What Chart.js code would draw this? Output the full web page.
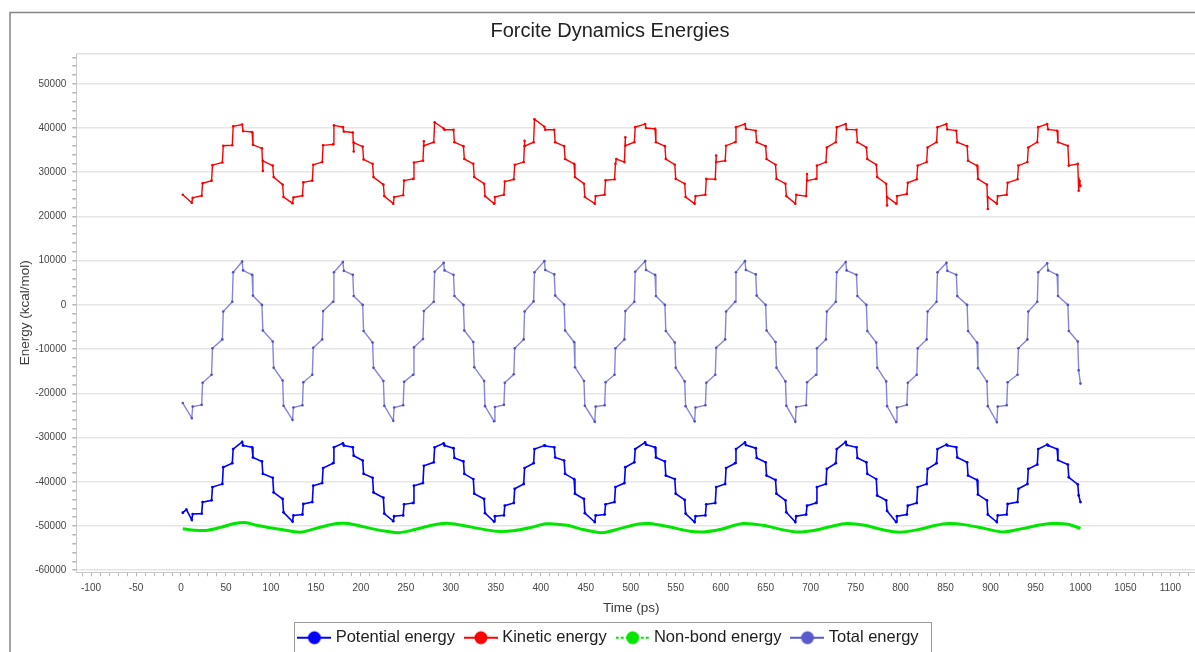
<!DOCTYPE html>
<html>
<head>
<meta charset="utf-8">
<title>Forcite Dynamics Energies</title>
<script src="https://cdn.jsdelivr.net/npm/chart.js@4.4.1/dist/chart.umd.min.js"></script>
<style>
  html, body { margin: 0; padding: 0; background: #fff; overflow: hidden; }
  #wrap { position: relative; width: 1220px; height: 680px; }
  canvas { display: block; }
</style>
</head>
<body>
<div id="wrap"><canvas id="energyChart" width="1220" height="680"></canvas></div>
<script>
// ---- Trajectory data (time in ps, energy in kcal/mol) ----
// Thermostat steps: each entry is the frame where a new plateau begins.
const stepTimes = [2,
  13, 24, 35, 47, 58, 69, 80, 91, 103, 114,
  125, 136, 147, 158, 170, 181, 192, 203, 214, 226,
  237, 248, 259, 270, 282, 293, 304, 315, 326, 338,
  349, 360, 371, 382, 393, 405, 416, 427, 438, 449,
  461, 472, 483, 494, 505, 517, 528, 539, 550, 561,
  572, 584, 595, 606, 617, 628, 640, 651, 662, 673,
  684, 696, 707, 718, 729, 740, 752, 763, 774, 785,
  796, 808, 819, 830, 841, 852, 863, 875, 886, 897,
  908, 919, 931, 942, 953, 964, 975, 987, 998];
const endTime = 1000;

// Total energy: value at the start and at the end of each plateau
const totalOpen = [-22200,
  -23000, -17600, -9800, -1500, 7400, 7800, 2100, -5800, -14200, -22800,
  -23200, -17500, -9700, -1400, 7400, 7700, 2000, -5900, -14200, -22800,
  -23200, -17400, -9600, -1400, 7500, 7800, 2000, -5800, -14100, -22900,
  -23100, -17600, -9800, -1500, 7400, 7900, 2100, -5800, -14100, -22800,
  -23000, -17500, -9800, -1400, 7500, 7900, 2000, -5900, -14200, -22900,
  -23200, -17600, -9700, -1500, 7400, 7900, 2100, -5800, -14200, -22800,
  -23100, -17500, -9800, -1500, 7400, 7800, 2000, -5900, -14200, -22900,
  -23200, -17600, -9800, -1500, 7400, 7700, 2000, -5900, -14300, -22900,
  -23000, -17500, -9800, -1500, 7400, 7800, 2000, -5900, -14800];
const totalClose = [-25600,
  -22600, -15800, -7800, 700, 9800, 6800, 0, -8300, -17100, -26000,
  -22700, -15800, -7800, 700, 9700, 6800, 0, -8500, -17200, -26200,
  -22700, -15800, -7700, 700, 9500, 6800, 0, -8400, -17200, -26300,
  -22600, -15700, -7800, 800, 9900, 6900, 100, -8400, -17200, -26400,
  -22700, -15800, -7800, 700, 9900, 6800, 0, -8500, -17300, -26300,
  -22700, -15800, -7800, 700, 9900, 6900, 0, -8400, -17300, -26400,
  -22700, -15800, -7800, 700, 9700, 6800, 0, -8500, -17300, -26500,
  -22600, -15800, -7800, 700, 9500, 6800, 0, -8500, -17300, -26500,
  -22700, -15800, -7800, 700, 9400, 6800, 0, -8300, -17800];

// Kinetic energy
const kineticOpen = [24900,
  24200, 27500, 31600, 36000, 40400, 39300, 36200, 32600, 28900, 24400,
  24300, 27700, 31700, 36100, 40600, 39200, 36700, 32900, 28900, 24600,
  24400, 28100, 32200, 36000, 41300, 39600, 36800, 33000, 28900, 24600,
  24400, 27900, 31700, 35900, 42000, 39600, 36800, 33000, 28900, 24400,
  24600, 28200, 31900, 36000, 40200, 40000, 36800, 33000, 28500, 24400,
  24600, 28500, 32300, 36000, 40200, 39800, 36800, 33000, 28500, 24600,
  24900, 28100, 31500, 35600, 40200, 39700, 36800, 33000, 28900, 24400,
  24600, 27600, 31500, 35600, 40200, 39700, 36800, 32600, 28500, 24400,
  24600, 27600, 31500, 35600, 40200, 39700, 36800, 31500, 25800];
const kineticClose = [23100,
  24700, 28100, 32200, 36100, 40800, 39100, 35400, 31500, 27200, 23000,
  24700, 28100, 32300, 36300, 40200, 39000, 35800, 31900, 27200, 22900,
  24800, 28500, 32600, 36800, 39900, 39600, 35900, 31900, 27400, 22900,
  24900, 28400, 32300, 36800, 40300, 39600, 35900, 31900, 27400, 22900,
  24900, 28400, 32300, 36800, 40900, 39800, 35900, 31700, 27400, 22900,
  24900, 28400, 32600, 36800, 40900, 39400, 35900, 31700, 27400, 22900,
  24600, 28500, 32300, 36800, 40900, 39600, 35600, 31700, 27400, 22900,
  25100, 28400, 32300, 36800, 40900, 39400, 35900, 31500, 27200, 22900,
  24900, 28400, 32300, 36800, 40900, 39400, 36000, 31900, 26900];
// Isolated kinetic-energy spikes [time, energy]
const kineticSpikes = [[91, 30300], [192, 34700], [270, 37000], [382, 37100],
  [484, 33000], [494, 37900], [595, 33800], [696, 29600], [785, 22500],
  [897, 21700], [999, 28000]];

// Potential energy
const potentialOpen = [-47000,
  -47300, -44600, -41200, -36700, -32600, -31800, -34500, -38200, -42400, -46900,
  -47600, -45000, -40900, -36900, -32200, -31800, -34100, -38200, -42400, -47200,
  -47800, -45100, -40900, -36400, -32200, -31800, -34600, -38200, -42700, -47100,
  -47800, -45400, -41600, -36900, -32600, -31900, -34500, -38200, -42700, -47100,
  -47600, -45100, -41200, -36700, -32600, -31600, -34500, -38600, -42700, -47200,
  -47800, -45100, -41200, -36900, -32600, -31700, -34600, -38600, -42700, -46900,
  -47800, -45400, -41200, -37100, -32600, -31700, -34600, -38200, -43100, -46600,
  -47800, -45400, -41200, -37100, -32600, -31800, -34500, -38600, -42900, -47400,
  -47600, -45000, -41600, -37100, -32600, -31800, -35100, -39000, -43100];
const potentialClose = [-48600,
  -47200, -44200, -40500, -35800, -31000, -32200, -35400, -39100, -43900, -49000,
  -47400, -44600, -40300, -35800, -31300, -32200, -35200, -39100, -43600, -48900,
  -47600, -44800, -40300, -35600, -31300, -32400, -35400, -39400, -43900, -49000,
  -47600, -44800, -40500, -35800, -31800, -32200, -35200, -39400, -43900, -49100,
  -47400, -44600, -40300, -35600, -31100, -32200, -35400, -39400, -44100, -49100,
  -47600, -44800, -40500, -35800, -31100, -32400, -35600, -39600, -44200, -49100,
  -47400, -44800, -40500, -35800, -31000, -32200, -35600, -39400, -44200, -49100,
  -47400, -44800, -40500, -35800, -31600, -32200, -35600, -39600, -44200, -49100,
  -47400, -44600, -40500, -36100, -31600, -32600, -36100, -40600, -44600];
const potentialSpikes = [[6, -46300]];

// Non-bond energy (smooth, sampled along the run)
const nonBondTime = [2, 16, 30, 45, 58, 71, 84, 97, 112, 132, 149, 167, 180, 193,
  212, 230, 243, 260, 279, 295, 312, 332, 351, 369, 388, 406, 429, 447, 468, 488,
  507, 521, 544, 566, 581, 599, 625, 647, 670, 686, 705, 723, 740, 760, 779, 799,
  820, 838, 853, 872, 894, 914, 935, 953, 968, 986, 1000];
const nonBondEnergy = [-50600, -50950, -50950, -50250, -49500, -49200, -49850,
  -50350, -50800, -51400, -50600, -49650, -49400, -49700, -50600, -51250, -51500,
  -50800, -49850, -49400, -49850, -50600, -51200, -51100, -50400, -49500, -49850,
  -50800, -51500, -50600, -49600, -49450, -50250, -51200, -51350, -50800, -49450,
  -49850, -50900, -51350, -50950, -50100, -49450, -49850, -50800, -51400, -50800,
  -49900, -49450, -49750, -50600, -51350, -50600, -49850, -49450, -49600, -50550];

const seriesNames = ['Potential energy', 'Kinetic energy', 'Non-bond energy', 'Total energy'];

// Axis ranges and tick spacing
const timeRange = [-116.4, 1144];
const timeMinorStep = 10, timeLabelStep = 50;
const energyRange = [-60450, 56900];
const energyMinorStep = 2000, energyLabelStep = 10000;

// ---- Build point lists for the library ----
function plateauPoints(open, close, spikes) {
  const pts = [];
  for (let k = 0; k < stepTimes.length; k++) {
    const t0 = stepTimes[k];
    const t1 = k + 1 < stepTimes.length ? stepTimes[k + 1] - 1 : endTime;
    pts.push({ x: t0, y: open[k], o: 1 });
    pts.push({ x: t1, y: close[k], o: 2 });
  }
  (spikes || []).forEach(([t, e]) => pts.push({ x: t, y: e, o: 0 }));
  pts.sort((a, b) => (a.x - b.x) || (a.o - b.o));
  return pts.map(p => ({ x: p.x, y: p.y }));
}

const potentialPts = plateauPoints(potentialOpen, potentialClose, potentialSpikes);
const kineticPts = plateauPoints(kineticOpen, kineticClose, kineticSpikes);
const totalPts = plateauPoints(totalOpen, totalClose, []);
const nonBondPts = nonBondTime.map((t, i) => ({ x: t, y: nonBondEnergy[i] }));

function tickList(range, step) {
  const out = [];
  for (let v = Math.ceil(range[0] / step) * step; v <= range[1]; v += step) out.push({ value: v });
  return out;
}

// Legend glyphs: a short line with a round marker
function legendGlyph(color, dashed) {
  const c = document.createElement('canvas');
  c.width = 34; c.height = 16;
  const g = c.getContext('2d');
  g.strokeStyle = color; g.lineWidth = 2;
  if (dashed) g.setLineDash([3, 2]);
  g.beginPath(); g.moveTo(0, 8); g.lineTo(34, 8); g.stroke();
  g.setLineDash([]);
  g.fillStyle = color;
  g.beginPath(); g.arc(17, 8, 6.5, 0, Math.PI * 2); g.fill();
  return c;
}
const glyphs = [
  legendGlyph('#0000ff', false),
  legendGlyph('#ff0000', false),
  legendGlyph('#00e600', true),
  legendGlyph('#5a5ad0', false)
];

const FONT = "'Liberation Sans', Arial, sans-serif";
Chart.defaults.font.family = FONT;

// Frame, legend border and time-axis caption
const decorations = {
  id: 'decorations',
  beforeDraw(chart) {
    const ctx = chart.ctx;
    ctx.save();
    ctx.fillStyle = '#ffffff';
    ctx.fillRect(0, 0, chart.width, chart.height);
    ctx.restore();
  },
  afterDraw(chart) {
    const ctx = chart.ctx;
    const area = chart.chartArea;
    ctx.save();
    // outer frame
    ctx.strokeStyle = '#858585';
    ctx.lineWidth = 1.5;
    ctx.strokeRect(10, 12.5, 1400, 900);
    // plot top border
    ctx.strokeStyle = '#e2e2e2';
    ctx.lineWidth = 1.5;
    ctx.beginPath();
    ctx.moveTo(area.left, area.top + 0.5);
    ctx.lineTo(area.right, area.top + 0.5);
    ctx.stroke();
    // legend border
    const hb = chart.legend.legendHitBoxes;
    if (hb && hb.length) {
      const last = hb[hb.length - 1];
      const l = hb[0].left - 7;
      const r = last.left + last.width + 13;
      const t = hb[0].top - 7;
      ctx.strokeStyle = '#9a9a9a';
      ctx.lineWidth = 1;
      ctx.strokeRect(Math.round(l) + 0.5, Math.round(t) + 0.5, Math.round(r - l), 34);
    }
    // x-axis caption
    ctx.fillStyle = '#3c3c3c';
    ctx.font = '13.5px ' + FONT;
    ctx.textAlign = 'center';
    ctx.textBaseline = 'middle';
    ctx.fillText('Time (ps)', area.left + 555, 608);
    ctx.restore();
  }
};

new Chart(document.getElementById('energyChart'), {
  type: 'line',
  data: {
    datasets: [
      { label: seriesNames[0], data: potentialPts, borderColor: '#0000ff', backgroundColor: '#0000ff',
        borderWidth: 1.6, pointRadius: 1.4, pointBorderWidth: 0, tension: 0 },
      { label: seriesNames[1], data: kineticPts, borderColor: '#ff0000', backgroundColor: '#ff0000',
        borderWidth: 1.4, pointRadius: 1.3, pointBorderWidth: 0, tension: 0 },
      { label: seriesNames[2], data: nonBondPts, borderColor: '#00e600', backgroundColor: '#00e600',
        borderWidth: 3, pointRadius: 0, tension: 0.3 },
      { label: seriesNames[3], data: totalPts, borderColor: 'rgba(92,92,212,0.75)', backgroundColor: '#5050c8',
        borderWidth: 1.4, pointRadius: 1.3, pointBorderWidth: 0, tension: 0 }
    ]
  },
  options: {
    responsive: false,
    animation: false,
    devicePixelRatio: 1,
    parsing: false,
    layout: { autoPadding: false, padding: { left: 10, right: 10, top: 0, bottom: 24 } },
    plugins: {
      title: {
        display: true,
        text: 'Forcite Dynamics Energies',
        color: '#222222',
        font: { size: 20, weight: 'normal', family: FONT },
        padding: { top: 19.5, bottom: 9.8 }
      },
      legend: {
        display: true,
        position: 'bottom',
        labels: {
          color: '#1e1e1e',
          font: { size: 16.5, family: FONT },
          padding: 13,
          usePointStyle: true,
          pointStyleWidth: 26,
          generateLabels(chart) {
            const items = Chart.defaults.plugins.legend.labels.generateLabels(chart);
            items.forEach((it, i) => { it.pointStyle = glyphs[i]; });
            return items;
          }
        }
      },
      tooltip: { enabled: false }
    },
    scales: {
      x: {
        type: 'linear',
        min: timeRange[0],
        max: timeRange[1],
        afterFit(scale) { scale.height = 44.3; },
        afterBuildTicks(scale) { scale.ticks = tickList(timeRange, timeMinorStep); },
        border: { color: '#c9c9c9', width: 1 },
        grid: { drawOnChartArea: false, drawTicks: true, tickLength: 4, tickColor: '#b5b5b5' },
        ticks: {
          autoSkip: false,
          maxRotation: 0,
          padding: 6,
          color: '#454545',
          font: { size: 10, family: FONT },
          callback: v => (Math.round(v) % timeLabelStep === 0 ? String(Math.round(v)) : '')
        },
        title: { display: false }
      },
      y: {
        type: 'linear',
        min: energyRange[0],
        max: energyRange[1],
        afterFit(scale) { scale.width = 66.3; },
        afterBuildTicks(scale) { scale.ticks = tickList(energyRange, energyMinorStep); },
        border: { color: '#c9c9c9', width: 1 },
        grid: {
          drawTicks: true,
          tickLength: 4,
          tickColor: '#b5b5b5',
          color: ctx => (ctx.tick && Math.round(ctx.tick.value) % energyLabelStep === 0 ? '#e6e6e6' : 'rgba(0,0,0,0)'),
          lineWidth: 1.5
        },
        ticks: {
          autoSkip: false,
          padding: 6,
          color: '#454545',
          font: { size: 10, family: FONT },
          callback: v => (Math.round(v) % energyLabelStep === 0 ? String(Math.round(v)) : '')
        },
        title: {
          display: true,
          text: 'Energy (kcal/mol)',
          color: '#3c3c3c',
          font: { size: 13.5, family: FONT },
          padding: { top: 7, bottom: 0 }
        }
      }
    }
  },
  plugins: [decorations]
});
</script>
</body>
</html>
